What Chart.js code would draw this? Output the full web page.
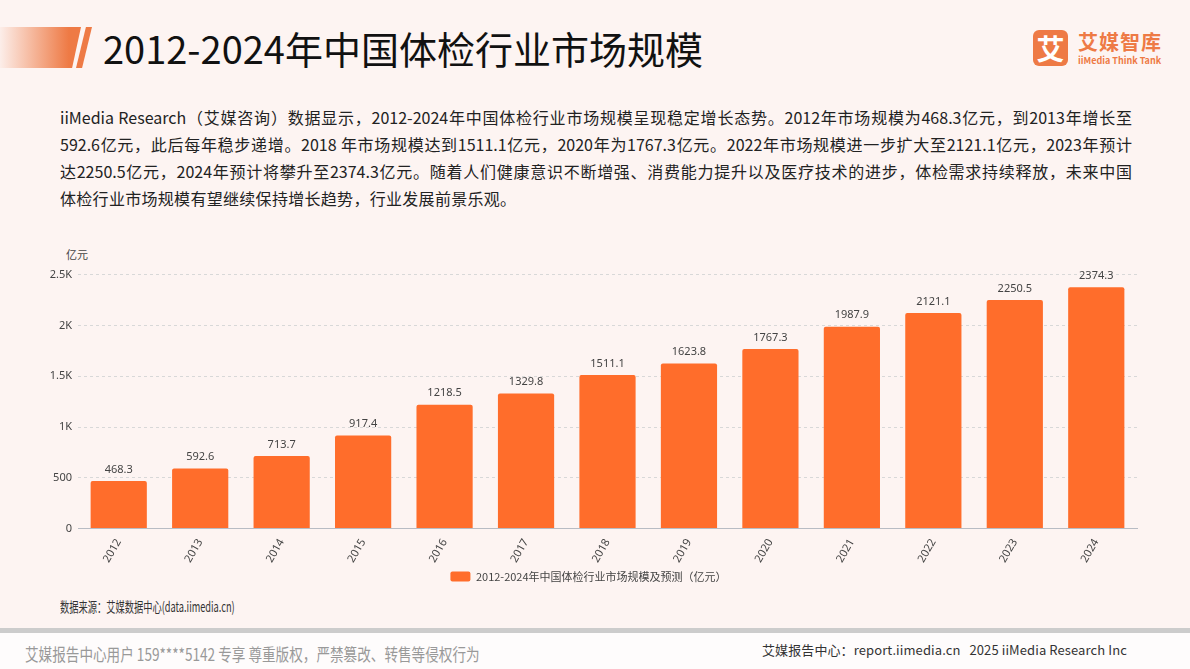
<!DOCTYPE html>
<html><head><meta charset="utf-8">
<script src="https://cdn.jsdelivr.net/npm/chart.js@4.4.1/dist/chart.umd.min.js"></script>
<style>
html,body{margin:0;padding:0;}
body{width:1190px;height:669px;position:relative;overflow:hidden;background:#fdf4f2;font-family:"Noto Sans CJK SC","Noto Sans",sans-serif;}
.abs{position:absolute;white-space:nowrap;}
#slab{position:absolute;left:0;top:27px;width:81px;height:41px;background:linear-gradient(90deg,rgba(240,120,70,0.05),#ee7a45 85%);clip-path:polygon(0 0,100% 0,89% 100%,0 100%);}
#slash{position:absolute;left:76px;top:27px;width:16px;height:41px;background:#ee7a45;clip-path:polygon(62% 0,100% 0,38% 100%,0 100%);}
#title{left:103px;top:23px;font-size:38px;line-height:50px;color:#111;}
#para{position:absolute;left:60px;top:104px;width:1072px;font-size:16px;line-height:27px;color:#222;}
#para div{text-align:justify;text-align-last:justify;}
#para div.last{text-align:left;text-align-last:left;letter-spacing:0.3px;}
#unit{left:66px;top:246px;font-size:11px;color:#444;}
#chartbox{position:absolute;left:40px;top:262px;width:1100px;height:334px;}
#src{left:60px;top:596px;font-size:14px;color:#333;transform:scaleX(0.66);transform-origin:0 0;}
#line{position:absolute;left:0;top:628px;width:1190px;height:5px;background:#cccccc;}
#footbg{position:absolute;left:0;top:633px;width:1190px;height:36px;background:#fefcfc;}
#fl{left:25px;top:641px;font-size:17px;color:#999;transform:scaleX(0.80);transform-origin:0 0;}
#fr{left:762px;top:640px;font-size:13px;color:#333;letter-spacing:0.1px;}
#logo{position:absolute;left:1033px;top:30px;width:35px;height:36px;background:#ee7a45;border-radius:6px;color:#fff;font-size:28px;line-height:36px;text-align:center;font-weight:bold;}
#logot{left:1078px;top:29px;font-size:20px;color:#ee7a45;font-weight:bold;line-height:26px;letter-spacing:1px;}
#logos{left:1078px;top:54px;font-size:9px;color:#ee7a45;font-weight:bold;}
</style></head>
<body>
<div id="slab"></div><div id="slash"></div>
<div class="abs" id="title">2012-2024年中国体检行业市场规模</div>
<div id="logo">艾</div>
<div class="abs" id="logot">艾媒智库</div>
<div class="abs" id="logos">iiMedia Think Tank</div>
<div id="para">
<div>iiMedia Research（艾媒咨询）数据显示，2012-2024年中国体检行业市场规模呈现稳定增长态势。2012年市场规模为468.3亿元，到2013年增长至</div>
<div>592.6亿元，此后每年稳步递增。2018 年市场规模达到1511.1亿元，2020年为1767.3亿元。2022年市场规模进一步扩大至2121.1亿元，2023年预计</div>
<div>达2250.5亿元，2024年预计将攀升至2374.3亿元。随着人们健康意识不断增强、消费能力提升以及医疗技术的进步，体检需求持续释放，未来中国</div>
<div class="last">体检行业市场规模有望继续保持增长趋势，行业发展前景乐观。</div>
</div>
<div class="abs" id="unit">亿元</div>
<div id="chartbox"><canvas id="c"></canvas></div>
<div class="abs" id="src">数据来源：艾媒数据中心(data.iimedia.cn)</div>
<div id="footbg"></div>
<div id="line"></div>
<div class="abs" id="fl">艾媒报告中心用户 159****5142 专享 尊重版权，严禁篡改、转售等侵权行为</div>
<div class="abs" id="fr">艾媒报告中心：report.iimedia.cn &nbsp; 2025 iiMedia Research Inc</div>
<script>
const years = ["2012","2013","2014","2015","2016","2017","2018","2019","2020","2021","2022","2023","2024"];
const marketSize = [468.3,592.6,713.7,917.4,1218.5,1329.8,1511.1,1623.8,1767.3,1987.9,2121.1,2250.5,2374.3];
const yTicks = [0,500,1000,1500,2000,2500];
const yTickLabels = ["0","500","1K","1.5K","2K","2.5K"];
const seriesName = "2012-2024年中国体检行业市场规模及预测（亿元）";

const valueLabels = {
  id:'valueLabels',
  afterDatasetsDraw(chart){
    const ctx = chart.ctx;
    const meta = chart.getDatasetMeta(0);
    ctx.save();
    ctx.font = '11px "Noto Sans", "Noto Sans CJK SC", sans-serif';
    ctx.fillStyle = '#444';
    ctx.textAlign = 'center';
    ctx.textBaseline = 'bottom';
    meta.data.forEach((bar,i)=>{
      ctx.fillText(marketSize[i].toFixed(1), bar.x, bar.y - 6);
    });
    ctx.restore();
  }
};

new Chart(document.getElementById('c'), {
  type:'bar',
  data:{labels:years,datasets:[{label:seriesName,data:marketSize,backgroundColor:'#ff6d2b',borderRadius:2,barPercentage:0.69,categoryPercentage:1}]},
  options:{
    responsive:true,maintainAspectRatio:false,animation:false,
    layout:{padding:{top:10,right:3,bottom:4,left:0}},
    plugins:{
      legend:{position:'bottom',labels:{boxWidth:20,boxHeight:10,useBorderRadius:true,borderRadius:2,color:'#444',font:{size:11,family:'"Noto Sans CJK SC", sans-serif'},padding:6}},
      tooltip:{enabled:false}
    },
    scales:{
      x:{grid:{display:false},border:{color:'#b8bcc4',width:1},
         ticks:{color:'#444',font:{size:11,family:'"Noto Sans", sans-serif'},minRotation:60,maxRotation:60,padding:0}},
      y:{min:0,max:2500,
         afterBuildTicks(s){s.ticks = yTicks.map(v=>({value:v}));},
         afterFit(s){s.width = 38;},
         grid:{color:'#d8d8d8',lineWidth:1,drawTicks:false},
         border:{display:false,dash:[3,3]},
         ticks:{color:'#444',padding:6,font:{size:11,family:'"Noto Sans", sans-serif'},
           callback(v){const i=yTicks.indexOf(v);return i>=0?yTickLabels[i]:'';}}
      }
    }
  },
  plugins:[valueLabels]
});
</script>
</body></html>
